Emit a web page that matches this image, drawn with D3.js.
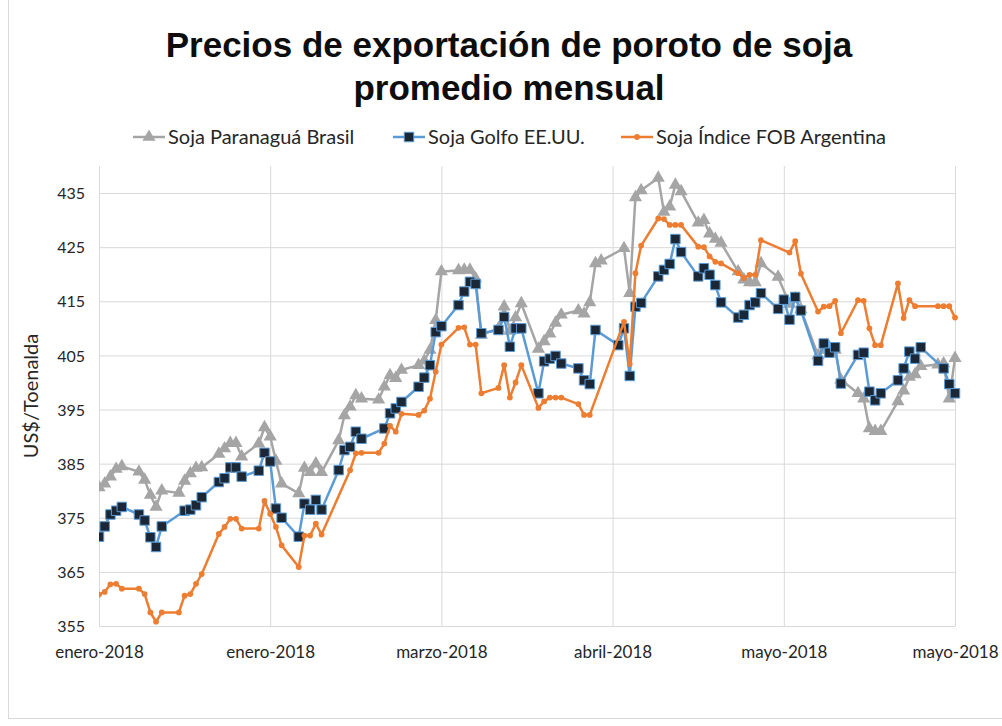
<!DOCTYPE html>
<html>
<head>
<meta charset="utf-8">
<script src="https://cdn.jsdelivr.net/npm/d3@7"></script>
<style>
  html, body { margin: 0; padding: 0; background: #ffffff; }
  svg { display: block; }
</style>
</head>
<body>
<div id="chart"></div>
<script>
// ---------------- DATA ----------------
const titleLines = ["Precios de exportación de poroto de soja", "promedio mensual"];
const yAxisTitle = "US$/Toenalda";
const seriesNames = ["Soja Paranaguá Brasil", "Soja Golfo EE.UU.", "Soja Índice FOB Argentina"];

const tickDates = ["2018-01-01", "2018-01-31", "2018-03-02", "2018-04-01", "2018-05-01", "2018-05-31"];
const tickLabels = ["enero-2018", "enero-2018", "marzo-2018", "abril-2018", "mayo-2018", "mayo-2018"];
const yTicks = [355, 365, 375, 385, 395, 405, 415, 425, 435];

const dates = [
  "2018-01-01","2018-01-02","2018-01-03","2018-01-04","2018-01-05",
  "2018-01-08","2018-01-09","2018-01-10","2018-01-11","2018-01-12",
  "2018-01-15","2018-01-16","2018-01-17","2018-01-18","2018-01-19",
  "2018-01-22","2018-01-23","2018-01-24","2018-01-25","2018-01-26",
  "2018-01-29","2018-01-30","2018-01-31","2018-02-01","2018-02-02",
  "2018-02-05","2018-02-06","2018-02-07","2018-02-08","2018-02-09",
  "2018-02-12","2018-02-13","2018-02-14","2018-02-15","2018-02-16",
  "2018-02-19","2018-02-20","2018-02-21","2018-02-22","2018-02-23",
  "2018-02-26","2018-02-27","2018-02-28","2018-03-01","2018-03-02",
  "2018-03-05","2018-03-06","2018-03-07","2018-03-08","2018-03-09",
  "2018-03-12","2018-03-13","2018-03-14","2018-03-15","2018-03-16",
  "2018-03-19","2018-03-20","2018-03-21","2018-03-22","2018-03-23",
  "2018-03-26","2018-03-27","2018-03-28","2018-03-29","2018-03-30",
  "2018-04-02","2018-04-03","2018-04-04","2018-04-05","2018-04-06",
  "2018-04-09","2018-04-10","2018-04-11","2018-04-12","2018-04-13",
  "2018-04-16","2018-04-17","2018-04-18","2018-04-19","2018-04-20",
  "2018-04-23","2018-04-24","2018-04-25","2018-04-26","2018-04-27",
  "2018-04-30","2018-05-01","2018-05-02","2018-05-03","2018-05-04",
  "2018-05-07","2018-05-08","2018-05-09","2018-05-10","2018-05-11",
  "2018-05-14","2018-05-15","2018-05-16","2018-05-17","2018-05-18",
  "2018-05-21","2018-05-22","2018-05-23","2018-05-24","2018-05-25",
  "2018-05-28","2018-05-29","2018-05-30","2018-05-31"
];

const brasil = [
  380.6, 381.3, 382.6, 384.0, 384.5,
  383.5, 382.0, 379.2, 377.0, 380.0,
  379.6, 381.8, 383.2, 384.2, 384.3,
  386.8, 387.8, 388.8, 388.8, 386.3,
  388.7, 391.7, 390.0, 385.5, 381.3,
  379.5, 384.2, 383.4, 385.0, 383.4,
  389.3, 393.9, 395.5, 397.6, 397.0,
  396.8, 399.2, 401.3, 400.8, 402.3,
  403.2, 404.0, 406.0, 411.5, 420.5,
  420.7, 420.8, 420.8, 419.2, 408.8,
  410.0, 414.0, 409.5, 412.0, 414.6,
  406.2, 407.6, 409.0, 411.0, 412.5,
  413.3, 412.7, 414.8, 422.0, 422.5,
  null,  424.8, 416.5, 434.2, 435.5,
  437.8, 431.5, 432.5, 436.5, 435.3,
  429.5, 430.0, 427.5, 426.5, 425.8,
  420.5, 419.0, 418.5, 418.5, 422.0,
  419.5, null,  414.5, 415.5, 413.5,
  405.0, 406.0, 406.5, 406.0, 400.5,
  398.0, 397.0, 391.5, 391.0, 391.0,
  396.5, 398.5, 401.0, 401.5, 403.0,
  403.3, 403.5, 397.0, 404.5
];

const golfo = [
  371.5, 373.4, 375.6, 376.3, 377.0,
  375.6, 374.5, 371.4, 369.6, 373.4,
  null,  376.3, 376.5, 377.3, 378.8,
  381.6, 382.3, 384.3, 384.3, 382.6,
  383.7, 387.0, 385.4, 376.7, 375.0,
  371.5, 377.6, 376.5, 378.3, 376.5,
  383.8, 387.5, 388.1, 390.9, 389.6,
  null,  391.5, 394.3, 395.2, 396.4,
  399.2, 400.9, 403.2, 409.3, 410.4,
  414.3, 416.8, 418.6, 418.2, 409.1,
  409.7, 412.1, 406.6, 410.0, 410.0,
  398.0, 403.9, 404.4, 404.9, 403.5,
  402.6, 400.4, 399.7, 409.7, null,
  406.9, 410.0, 401.2, 414.0, 414.7,
  419.6, 420.8, 421.9, 426.5, 424.1,
  419.6, 421.1, 419.9, 418.0, 414.8,
  412.0, 412.5, 414.3, 414.8, 416.5,
  413.6, 415.3, 411.6, 415.8, 413.3,
  404.0, 407.2, 405.5, 406.5, 399.8,
  405.1, 405.5, 398.3, 396.7, 398.0,
  400.4, 402.6, 405.7, 404.4, 406.5,
  null,  402.6, 399.7, 398.0
];

const argentina = [
  360.8, 361.3, 362.7, 362.8, 361.9,
  361.9, 360.9, 357.5, 355.8, 357.5,
  357.5, 360.6, 360.9, 362.8, 364.6,
  372.0, 373.3, 374.8, 374.8, 373.0,
  373.0, 378.1, 375.7, 373.3, 369.9,
  365.9, 371.7, 371.7, 373.9, 371.9,
  null,  null,  383.8, 386.9, 387.0,
  387.0, 388.7, 392.0, 390.9, 394.2,
  394.0, 394.8, 397.0, 402.0, 407.0,
  410.1, 410.2, 407.0, 407.0, 398.0,
  399.0, 403.2, 397.2, 400.0, 403.2,
  395.3, 396.5, 397.2, 397.2, 397.2,
  396.0, 394.0, 394.0, null,  null,
  null,  411.2, 403.4, 420.2, 425.3,
  430.3, 430.2, 429.1, 429.1, 429.1,
  425.1, 425.0, 423.3, 422.3, 422.0,
  420.2, 419.3, 419.9, 419.9, 426.3,
  null,  null,  424.0, 426.1, 420.1,
  413.1, 414.0, 414.1, 415.1, 409.1,
  415.2, 415.1, 410.0, 406.9, 406.9,
  418.3, 411.9, 415.2, 414.1, null,
  414.1, 414.1, 414.1, 412.0
];

// ---------------- CHART ----------------
const W = 1002, H = 726;
const plot = { left: 99, right: 955, top: 166, bottom: 626 };
const FONT = "Lato, 'Open Sans', sans-serif";
const parse = d3.timeParse("%Y-%m-%d");

const svg = d3.select("#chart").append("svg")
  .attr("width", W).attr("height", H)
  .style("font-family", FONT);

// outer chart frame
svg.append("rect")
  .attr("x", 8.5).attr("y", -1).attr("width", 1010).attr("height", 719.5)
  .attr("fill", "#ffffff").attr("stroke", "#d9d9d9").attr("stroke-width", 1);

const x = d3.scaleTime()
  .domain([parse(tickDates[0]), parse(tickDates[tickDates.length - 1])])
  .range([plot.left, plot.right]);
const y = d3.scaleLinear().domain([355, 440]).range([plot.bottom, plot.top]);

// title
svg.append("g").selectAll("text").data(titleLines).join("text")
  .attr("x", 509).attr("y", (d, i) => 57 + i * 43)
  .attr("text-anchor", "middle")
  .attr("font-family", "'Liberation Sans', Arial, sans-serif")
  .attr("font-weight", "bold").attr("font-size", 35)
  .attr("fill", "#0d0d0d")
  .text(d => d);

// horizontal gridlines
svg.append("g")
  .attr("transform", `translate(${plot.left},0)`)
  .call(d3.axisLeft(y).tickValues(yTicks).tickSize(-(plot.right - plot.left)).tickFormat(""))
  .call(g => g.select(".domain").remove())
  .call(g => g.selectAll("line").attr("stroke", "#d9d9d9").attr("stroke-width", 1));

// vertical gridlines
svg.append("g")
  .attr("transform", `translate(0,${plot.top})`)
  .call(d3.axisTop(x).tickValues(tickDates.map(parse)).tickSize(-(plot.bottom - plot.top)).tickFormat(""))
  .call(g => g.select(".domain").remove())
  .call(g => g.selectAll("line").attr("stroke", "#d9d9d9").attr("stroke-width", 1));

// y axis labels
svg.append("g")
  .attr("transform", `translate(${plot.left - 11},0)`)
  .call(d3.axisLeft(y).tickValues(yTicks).tickSize(0).tickFormat(d3.format("d")))
  .call(g => g.select(".domain").remove())
  .call(g => g.selectAll("text")
    .attr("font-family", FONT).attr("font-size", 16).attr("fill", "#262626").attr("dx", 0).attr("dy", "0.35em"));

// x axis labels
svg.append("g")
  .attr("transform", `translate(0,${plot.bottom + 17})`)
  .call(d3.axisBottom(x).tickValues(tickDates.map(parse)).tickSize(0)
    .tickFormat((d, i) => tickLabels[i]))
  .call(g => g.select(".domain").remove())
  .call(g => g.selectAll("text")
    .attr("font-family", FONT).attr("font-size", 17).attr("fill", "#262626"));

// y axis title
svg.append("text")
  .attr("transform", `translate(38,396) rotate(-90)`)
  .attr("text-anchor", "middle")
  .attr("font-size", 20).attr("fill", "#262626")
  .text(yAxisTitle);

// clip
svg.append("clipPath").attr("id", "plotclip").append("rect")
  .attr("x", plot.left).attr("y", plot.top - 20)
  .attr("width", plot.right - plot.left + 10).attr("height", plot.bottom - plot.top + 30);

const series = [
  { name: seriesNames[0], values: brasil, color: "#a5a5a5", symbol: d3.symbolTriangle, size: 75, fill: "#a5a5a5", stroke: "none" },
  { name: seriesNames[1], values: golfo, color: "#5b9bd5", symbol: d3.symbolSquare, size: 90, fill: "#1c2735", stroke: "#5b9bd5" },
  { name: seriesNames[2], values: argentina, color: "#ed7d31", symbol: d3.symbolCircle, size: 26, fill: "#ed7d31", stroke: "none" }
];

const line = d3.line().x(d => x(d.date)).y(d => y(d.v));
const gPlot = svg.append("g").attr("clip-path", "url(#plotclip)");

series.forEach(s => {
  const pts = dates.map((d, i) => ({ date: parse(d), v: s.values[i] })).filter(p => p.v != null);
  const g = gPlot.append("g");
  g.append("path").datum(pts)
    .attr("d", line).attr("fill", "none")
    .attr("stroke", s.color).attr("stroke-width", 2.5).attr("stroke-linejoin", "round");
  g.selectAll("path.m").data(pts).join("path").attr("class", "m")
    .attr("transform", p => `translate(${x(p.date)},${y(p.v)})`)
    .attr("d", d3.symbol().type(s.symbol).size(s.size))
    .attr("fill", s.fill).attr("stroke", s.stroke).attr("stroke-width", s.stroke === "none" ? 0 : 1);
});

// legend
const legendX = [133, 393, 621];
const legend = svg.append("g").attr("transform", "translate(0,137)");
series.forEach((s, i) => {
  const g = legend.append("g").attr("transform", `translate(${legendX[i]},0)`);
  g.append("line").attr("x1", 0).attr("x2", 32).attr("y1", 0).attr("y2", 0)
    .attr("stroke", s.color).attr("stroke-width", 2.5);
  g.append("path").attr("transform", "translate(16,0)")
    .attr("d", d3.symbol().type(s.symbol).size(s.size))
    .attr("fill", s.fill).attr("stroke", s.stroke).attr("stroke-width", s.stroke === "none" ? 0 : 1);
  g.append("text").attr("x", 35).attr("y", 0).attr("dy", "0.35em")
    .attr("font-size", 20).attr("fill", "#262626").text(s.name);
});
</script>
</body>
</html>
